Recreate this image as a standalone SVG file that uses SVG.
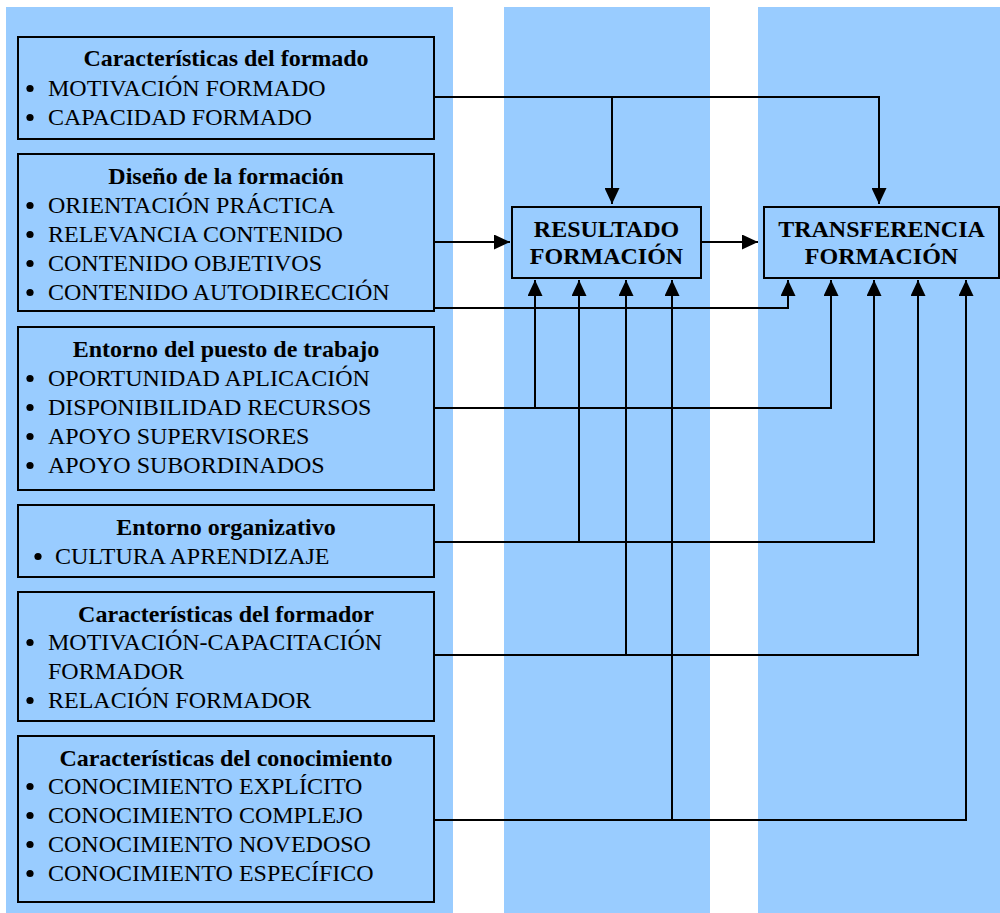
<svg xmlns="http://www.w3.org/2000/svg" width="1000" height="913" viewBox="0 0 1000 913">
<defs>
<style>
.col{fill:#99CCFF;}
.box{fill:#99CCFF;stroke:#000;stroke-width:2;}
.t{font-family:"Liberation Serif","Times New Roman",serif;font-size:24px;fill:#000;}
.h{font-weight:bold;text-anchor:middle;}
.dot{fill:#000;}
.c{fill:none;stroke:#000;stroke-width:2;}
</style>
<marker id="ah" markerUnits="userSpaceOnUse" markerWidth="16" markerHeight="15" refX="16" refY="7.5" orient="auto">
<path d="M0,0 L16,7.5 L0,15 Z" fill="#000"/>
</marker>
</defs>
<rect width="1000" height="913" fill="#fff"/>
<g id="columns">
<rect class="col" x="6" y="7" width="447" height="906"/>
<rect class="col" x="504" y="7" width="206" height="906"/>
<rect class="col" x="758" y="7" width="242" height="906"/>
</g>
<g id="connectors">
<path class="c" d="M434,97 H879 V204" marker-end="url(#ah)"/>
<path class="c" d="M612,97 V204" marker-end="url(#ah)"/>
<path class="c" d="M434,242 H510" marker-end="url(#ah)"/>
<path class="c" d="M701,242 H758" marker-end="url(#ah)"/>
<path class="c" d="M434,308 H788 V280" marker-end="url(#ah)"/>
<path class="c" d="M434,408 H831 V280" marker-end="url(#ah)"/>
<path class="c" d="M535,408 V280" marker-end="url(#ah)"/>
<path class="c" d="M434,542 H874 V280" marker-end="url(#ah)"/>
<path class="c" d="M579,542 V280" marker-end="url(#ah)"/>
<path class="c" d="M434,655 H918 V280" marker-end="url(#ah)"/>
<path class="c" d="M626,655 V280" marker-end="url(#ah)"/>
<path class="c" d="M434,820 H966 V280" marker-end="url(#ah)"/>
<path class="c" d="M672,820 V280" marker-end="url(#ah)"/>
</g>
<g id="formado">
<rect class="box" x="18" y="37" width="416" height="102"/>
<text class="t h" x="226" y="66">Características del formado</text>
<circle class="dot" cx="30" cy="88.5" r="3.6"/><text class="t" x="48" y="96">MOTIVACIÓN FORMADO</text>
<circle class="dot" cx="30" cy="117.5" r="3.6"/><text class="t" x="48" y="125">CAPACIDAD FORMADO</text>
</g>
<g id="diseno">
<rect class="box" x="18" y="154" width="416" height="157"/>
<text class="t h" x="226" y="184">Diseño de la formación</text>
<circle class="dot" cx="30" cy="205.5" r="3.6"/><text class="t" x="48" y="213">ORIENTACIÓN PRÁCTICA</text>
<circle class="dot" cx="30" cy="234.5" r="3.6"/><text class="t" x="48" y="242">RELEVANCIA CONTENIDO</text>
<circle class="dot" cx="30" cy="263.5" r="3.6"/><text class="t" x="48" y="271">CONTENIDO OBJETIVOS</text>
<circle class="dot" cx="30" cy="292.5" r="3.6"/><text class="t" x="48" y="300">CONTENIDO AUTODIRECCIÓN</text>
</g>
<g id="puesto">
<rect class="box" x="18" y="327" width="416" height="163"/>
<text class="t h" x="226" y="357">Entorno del puesto de trabajo</text>
<circle class="dot" cx="30" cy="378.5" r="3.6"/><text class="t" x="48" y="386">OPORTUNIDAD APLICACIÓN</text>
<circle class="dot" cx="30" cy="407.5" r="3.6"/><text class="t" x="48" y="415">DISPONIBILIDAD RECURSOS</text>
<circle class="dot" cx="30" cy="436.5" r="3.6"/><text class="t" x="48" y="444">APOYO SUPERVISORES</text>
<circle class="dot" cx="30" cy="465.5" r="3.6"/><text class="t" x="48" y="473">APOYO SUBORDINADOS</text>
</g>
<g id="organizativo">
<rect class="box" x="18" y="505" width="416" height="72"/>
<text class="t h" x="226" y="535">Entorno organizativo</text>
<circle class="dot" cx="38" cy="556.5" r="3.6"/><text class="t" x="55" y="564">CULTURA APRENDIZAJE</text>
</g>
<g id="formador">
<rect class="box" x="18" y="592" width="416" height="129"/>
<text class="t h" x="226" y="622">Características del formador</text>
<circle class="dot" cx="30" cy="642.5" r="3.6"/><text class="t" x="48" y="650">MOTIVACIÓN-CAPACITACIÓN</text>
<text class="t" x="48" y="679">FORMADOR</text>
<circle class="dot" cx="30" cy="700.5" r="3.6"/><text class="t" x="48" y="708">RELACIÓN FORMADOR</text>
</g>
<g id="conocimiento">
<rect class="box" x="18" y="736" width="416" height="166"/>
<text class="t h" x="226" y="766">Características del conocimiento</text>
<circle class="dot" cx="30" cy="786.5" r="3.6"/><text class="t" x="48" y="794">CONOCIMIENTO EXPLÍCITO</text>
<circle class="dot" cx="30" cy="815.5" r="3.6"/><text class="t" x="48" y="823">CONOCIMIENTO COMPLEJO</text>
<circle class="dot" cx="30" cy="844.5" r="3.6"/><text class="t" x="48" y="852">CONOCIMIENTO NOVEDOSO</text>
<circle class="dot" cx="30" cy="873.5" r="3.6"/><text class="t" x="48" y="881">CONOCIMIENTO ESPECÍFICO</text>
</g>
<g id="resultado">
<rect class="box" x="512" y="207" width="189" height="71"/>
<text class="t h" x="606.5" y="237">RESULTADO</text>
<text class="t h" x="606.5" y="264">FORMACIÓN</text>
</g>
<g id="transferencia">
<rect class="box" x="764" y="207" width="235" height="71"/>
<text class="t h" x="881.5" y="237">TRANSFERENCIA</text>
<text class="t h" x="881.5" y="264">FORMACIÓN</text>
</g>
</svg>
